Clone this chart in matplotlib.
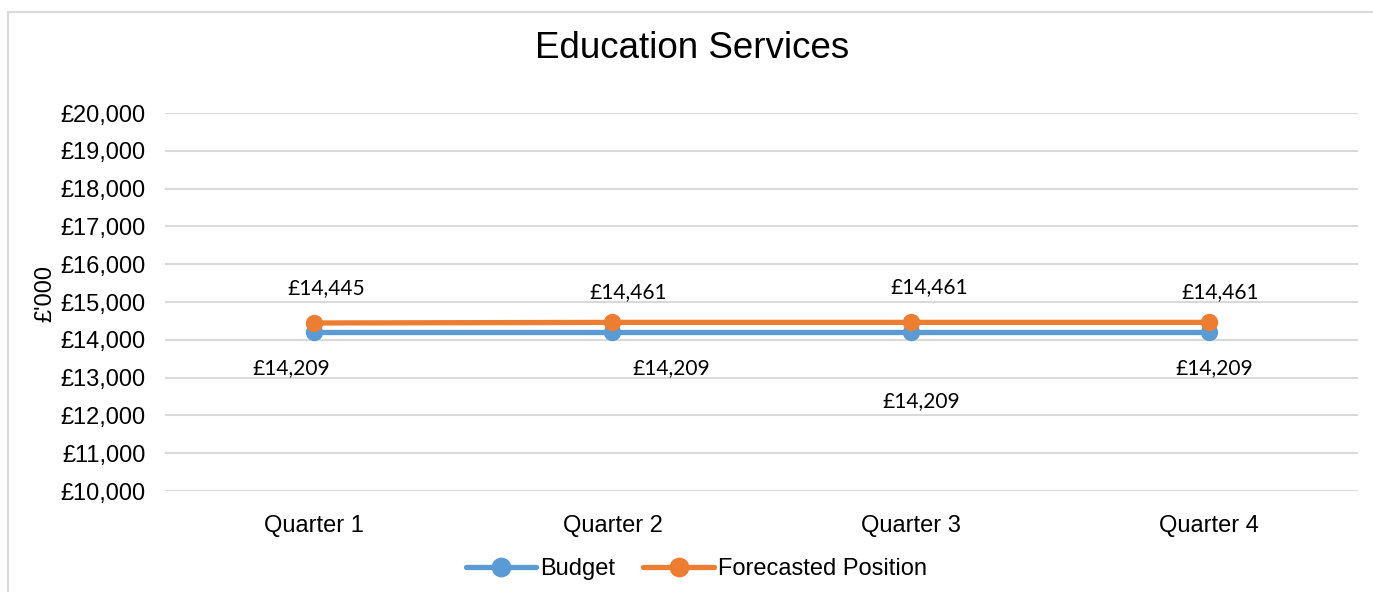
import matplotlib.pyplot as plt
import matplotlib.patches as patches
import numpy as np

# data
quarters = ['Quarter 1', 'Quarter 2', 'Quarter 3', 'Quarter 4']
budget = [14209, 14209, 14209, 14209]
forecast = [14445, 14461, 14461, 14461]
yticks = np.arange(10000, 20001, 1000)

# label offsets in pixels (dx, dy) - mimic Excel placement
budget_off = [(-23, -36), (59, -36), (11, -69), (5, -36)]
forecast_off = [(12, 35), (16, 30), (19, 35), (11, 30)]

blue = '#5B9BD5'
orange = '#ED7D31'

plt.rcParams['font.family'] = ['Liberation Sans', 'DejaVu Sans']

fig = plt.figure(figsize=(13.73, 5.92), dpi=100)
ax = fig.add_axes([0.1202, 0.1706, 0.869, 0.6385])

x = np.arange(len(quarters))
ax.plot(x, budget, color=blue, lw=3.8, marker='o', ms=11.5, label='Budget',
        solid_capstyle='round', zorder=3)
ax.plot(x, forecast, color=orange, lw=3.8, marker='o', ms=11.5, label='Forecasted Position',
        solid_capstyle='round', zorder=4)

for i in range(len(x)):
    ax.annotate('£{:,}'.format(budget[i]), (x[i], budget[i]), xytext=budget_off[i],
                textcoords='offset pixels', ha='center', va='center',
                fontsize=15, family=['Lato', 'DejaVu Sans'], color='#000000')
    ax.annotate('£{:,}'.format(forecast[i]), (x[i], forecast[i]), xytext=forecast_off[i],
                textcoords='offset pixels', ha='center', va='center',
                fontsize=15, family=['Lato', 'DejaVu Sans'], color='#000000')

ax.set_xlim(-0.5, 3.5)
ax.set_ylim(10000, 20000)
ax.set_yticks(yticks)
ax.set_yticklabels(['£{:,}'.format(v) for v in yticks])
ax.set_xticks(x)
ax.set_xticklabels(quarters)
ax.tick_params(axis='y', length=0, pad=14, labelsize=17)
ax.tick_params(axis='x', length=0, pad=17, labelsize=17)
ax.grid(axis='y', color='#D9D9D9', lw=1.5)
ax.set_axisbelow(True)
for s in ax.spines.values():
    s.set_visible(False)

fig.text(0.504, 0.918, 'Education Services', ha='center', va='center', fontsize=26.5)
fig.text(0.0328, 0.505, "£'000", ha='center', va='center', rotation=90, fontsize=17)

ax.legend(loc='center', bbox_to_anchor=(0.507, 0.039), bbox_transform=fig.transFigure,
          ncol=2, frameon=False, fontsize=17, handlelength=3.0, handletextpad=0.15,
          columnspacing=1.2, markerscale=1.15)

# chart border
fig.patches.append(patches.Rectangle((8 / 1373, -0.1), 1.2, 1 - 12 / 592 + 0.1,
                                     transform=fig.transFigure, fill=False,
                                     edgecolor='#D9D9D9', lw=1.5))

fig.savefig('out.png', dpi=100)
